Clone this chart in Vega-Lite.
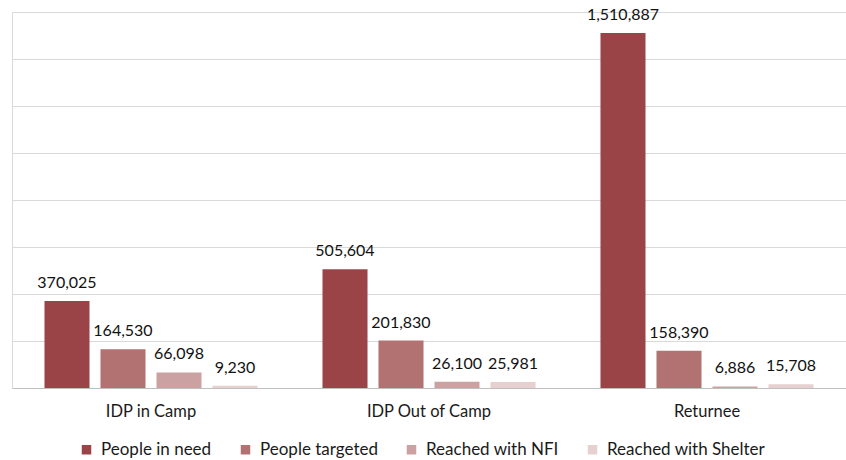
{
  "$schema": "https://vega.github.io/schema/vega-lite/v6.json",
  "width": 834,
  "height": 376,
  "autosize": {"type": "none"},
  "padding": {"left": 12, "top": 12, "right": 0, "bottom": 72},
  "background": "white",
  "data": {
    "values": [
      {"group": "IDP in Camp", "series": "People in need", "value": 370025},
      {"group": "IDP in Camp", "series": "People targeted", "value": 164530},
      {"group": "IDP in Camp", "series": "Reached with NFI", "value": 66098},
      {"group": "IDP in Camp", "series": "Reached with Shelter", "value": 9230},
      {"group": "IDP Out of Camp", "series": "People in need", "value": 505604},
      {"group": "IDP Out of Camp", "series": "People targeted", "value": 201830},
      {"group": "IDP Out of Camp", "series": "Reached with NFI", "value": 26100},
      {"group": "IDP Out of Camp", "series": "Reached with Shelter", "value": 25981},
      {"group": "Returnee", "series": "People in need", "value": 1510887},
      {"group": "Returnee", "series": "People targeted", "value": 158390},
      {"group": "Returnee", "series": "Reached with NFI", "value": 6886},
      {"group": "Returnee", "series": "Reached with Shelter", "value": 15708}
    ]
  },
  "encoding": {
    "x": {
      "field": "group",
      "type": "nominal",
      "sort": ["IDP in Camp", "IDP Out of Camp", "Returnee"],
      "scale": {"paddingInner": 0, "paddingOuter": 0},
      "axis": {
        "title": null,
        "labelAngle": 0,
        "ticks": false,
        "domainColor": "#bfbfbf",
        "labelFont": "Lato",
        "labelFontSize": 16.5,
        "labelColor": "#1a1a1a",
        "labelPadding": 15
      }
    },
    "xOffset": {
      "field": "series",
      "type": "nominal",
      "sort": ["People in need", "People targeted", "Reached with NFI", "Reached with Shelter"],
      "scale": {"paddingInner": 0.196, "paddingOuter": 0.58}
    },
    "y": {
      "field": "value",
      "type": "quantitative",
      "scale": {"domain": [0, 1600000], "nice": false},
      "axis": {
        "title": null,
        "labels": false,
        "ticks": false,
        "values": [0, 200000, 400000, 600000, 800000, 1000000, 1200000, 1400000, 1600000],
        "gridColor": "#d9d9d9",
        "domainColor": "#d9d9d9"
      }
    }
  },
  "layer": [
    {
      "mark": {"type": "bar"},
      "encoding": {
        "color": {
          "field": "series",
          "type": "nominal",
          "sort": ["People in need", "People targeted", "Reached with NFI", "Reached with Shelter"],
          "scale": {
            "domain": ["People in need", "People targeted", "Reached with NFI", "Reached with Shelter"],
            "range": ["#9b4447", "#b27272", "#cca1a1", "#e7d0d0"]
          },
          "legend": {
            "title": null,
            "orient": "none",
            "legendX": 66,
            "legendY": 429,
            "direction": "horizontal",
            "symbolType": "square",
            "symbolSize": 90,
            "symbolStrokeWidth": 0,
            "labelFont": "Lato",
            "labelFontSize": 17,
            "labelColor": "#1a1a1a",
            "labelOffset": 6,
            "columnPadding": 25
          }
        }
      }
    },
    {
      "mark": {"type": "text", "baseline": "alphabetic", "dy": -13, "font": "Lato", "fontSize": 16, "color": "#111111"},
      "encoding": {
        "text": {"field": "value", "type": "quantitative", "format": ","}
      }
    }
  ]
}
